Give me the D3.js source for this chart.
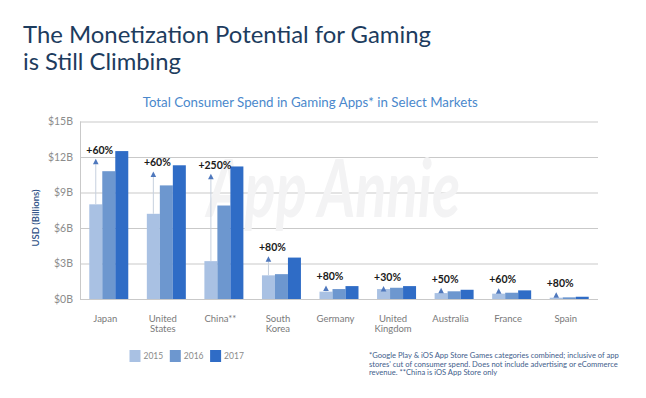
<!DOCTYPE html>
<html><head><meta charset="utf-8">
<script src="https://cdn.jsdelivr.net/npm/d3@7"></script>
<style>html,body{margin:0;padding:0;background:#fff;} svg{display:block;}</style>
</head><body>
<svg id="chart" width="646" height="398"></svg>
<script>
const categories = ["Japan","United States","China**","South Korea","Germany","United Kingdom","Australia","France","Spain"];
const years = ["2015","2016","2017"];
const spend2015 = [8.0, 7.2, 3.2, 2.0, 0.62, 0.84, 0.50, 0.45, 0.11];
const spend2016 = [10.8, 9.6, 7.9, 2.1, 0.84, 0.95, 0.65, 0.53, 0.14];
const spend2017 = [12.5, 11.3, 11.2, 3.5, 1.09, 1.09, 0.78, 0.73, 0.19];
const growthLabels = ["+60%","+60%","+250%","+80%","+80%","+30%","+50%","+60%","+80%"];
const arrowTips = [11.85, 10.78, 10.59, 3.62, 1.15, 1.10, 0.95, 0.90, 0.56];
const yTicks = [0, 3, 6, 9, 12, 15];
const yTickLabels = ["$0B","$3B","$6B","$9B","$12B","$15B"];
const footnoteLines = [
  "*Google Play & iOS App Store Games categories combined; inclusive of app",
  "stores' cut of consumer spend. Does not include advertising or eCommerce",
  "revenue. **China is iOS App Store only"
];

const series = [spend2015, spend2016, spend2017];
const colors = {"2015":"#a9c1e3","2016":"#6d97cf","2017":"#2f6cc6"};
const svg = d3.select("#chart");
const font = "Lato, 'Open Sans', sans-serif";

// Titles
svg.append("text").attr("x",23).attr("y",43.3).attr("font-family",font).attr("font-size",23)
  .attr("fill","#1d3c5e").attr("textLength",408).attr("lengthAdjust","spacingAndGlyphs")
  .text("The Monetization Potential for Gaming");
svg.append("text").attr("x",23).attr("y",70).attr("font-family",font).attr("font-size",23)
  .attr("fill","#1d3c5e").attr("textLength",158).attr("lengthAdjust","spacingAndGlyphs")
  .text("is Still Climbing");
svg.append("text").attr("x",142.7).attr("y",107).attr("font-family",font).attr("font-size",13)
  .attr("fill","#4a88cc").attr("textLength",335).attr("lengthAdjust","spacingAndGlyphs")
  .text("Total Consumer Spend in Gaming Apps* in Select Markets");

// Scales
const x0 = d3.scaleBand().domain(categories).range([80,598]).paddingInner(0.3225).paddingOuter(0.16125);
const x1 = d3.scaleBand().domain(years).range([0, x0.bandwidth()]);
const y = d3.scaleLinear().domain([0,15]).range([299,121.5]);

// Grid / y axis
const yAxis = d3.axisLeft(y).tickValues(yTicks).tickSize(-518).tickPadding(7)
  .tickFormat((d,i)=>yTickLabels[yTicks.indexOf(d)]);
const gy = svg.append("g").attr("transform","translate(80,0)").call(yAxis);
gy.select(".domain").attr("stroke","#c9c9c9").attr("d","M0.5,121.5V299");
gy.selectAll(".tick line").attr("stroke","#c9c9c9");
gy.selectAll(".tick text").attr("fill","#8c8c8c").attr("font-size",10.5).attr("font-family",font);

// Watermark
svg.append("text").attr("x",207).attr("y",217).attr("font-family",font).attr("font-style","italic")
  .attr("font-weight",700).attr("font-size",80).attr("fill","#f3f3f4")
  .attr("textLength",253).attr("lengthAdjust","spacingAndGlyphs").text("App Annie");

// Bars
const groups = svg.append("g").selectAll("g").data(categories).join("g")
  .attr("transform", d => `translate(${x0(d)},0)`);
groups.selectAll("rect").data((d,i)=>years.map((yr,j)=>({yr, v: series[j][i]}))).join("rect")
  .attr("x", d => x1(d.yr)).attr("width", x1.bandwidth())
  .attr("y", d => y(d.v)).attr("height", d => y(0) - y(d.v))
  .attr("fill", d => colors[d.yr]);

// Annotations
const ann = svg.append("g");
categories.forEach((c,i)=>{
  const cx = x0(c) + x1("2015") + x1.bandwidth()/2;
  const tipY = y(arrowTips[i]);
  const baseY = y(spend2015[i]);
  if (baseY - (tipY+5.5) > 0.5) {
    ann.append("line").attr("x1",cx).attr("x2",cx).attr("y1",baseY).attr("y2",tipY+5.5)
      .attr("stroke","#c6d0de").attr("stroke-width",1);
  }
  ann.append("path").attr("d",`M${cx},${tipY}L${cx+2.8},${tipY+5.5}L${cx-2.8},${tipY+5.5}Z`).attr("fill","#4f78bd");
  ann.append("text").attr("x",cx+4).attr("y",tipY-5).attr("text-anchor","middle")
    .attr("font-family",font).attr("font-weight",700).attr("font-size",10.5).attr("fill","#1a1a1a")
    .text(growthLabels[i]);
});

// Category labels
categories.forEach(c=>{
  const parts = c.split(" ");
  const t = svg.append("text").attr("text-anchor","middle").attr("font-family",font)
    .attr("font-size",9.5).attr("fill","#7a7a7a");
  parts.forEach((p,k)=>{
    t.append("tspan").attr("x", x0(c)+x0.bandwidth()/2-3.5).attr("y", 321.5 + k*10.8).text(p);
  });
});

// Y axis title
svg.append("text").attr("transform","translate(38.5,218) rotate(-90)").attr("text-anchor","middle")
  .attr("font-family",font).attr("font-size",9.5).attr("font-weight",600).attr("fill","#2d4f86")
  .text("USD (Billions)");

// Legend
const leg = svg.append("g").selectAll("g").data(years).join("g")
  .attr("transform",(d,i)=>`translate(${129.5 + i*40.3},350)`);
leg.append("rect").attr("width",11).attr("height",12).attr("fill",d=>colors[d]);
leg.append("text").attr("x",14).attr("y",9.3).attr("font-family",font).attr("font-size",8.5)
  .attr("fill","#8a8a8a").text(d=>d);

// Footnote
const fn = svg.append("text").attr("font-family",font).attr("font-size",7.6).attr("fill","#3f5e8c");
footnoteLines.forEach((l,k)=>{
  fn.append("tspan").attr("x",369).attr("y",358 + k*8.7).text(l);
});
</script>
</body></html>
